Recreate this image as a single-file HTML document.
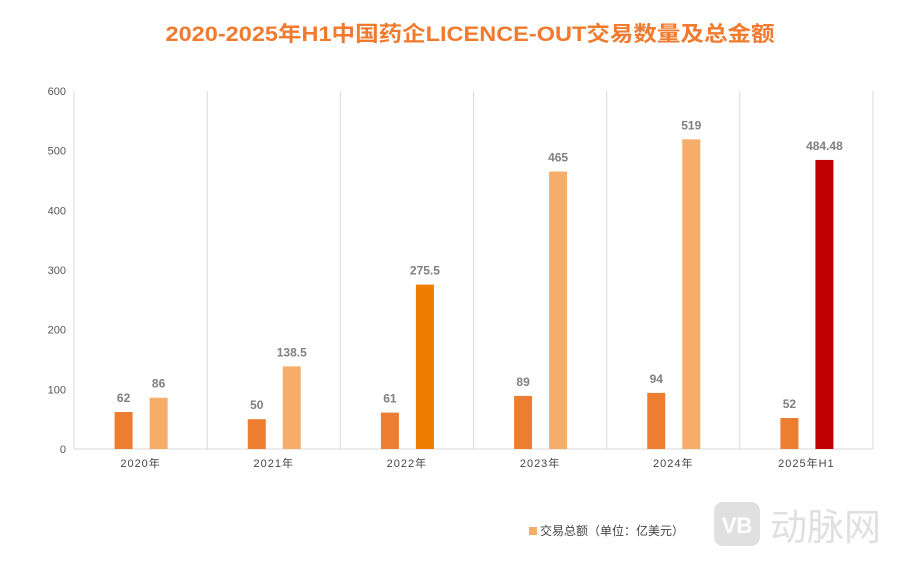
<!DOCTYPE html>
<html><head><meta charset="utf-8"><style>
body{margin:0;width:905px;height:556px;background:#fff;overflow:hidden;font-family:"Liberation Sans","Noto Sans CJK SC",sans-serif}
</style></head><body>
<svg width="905" height="556" font-family="Liberation Sans, Noto Sans CJK SC, sans-serif">
<text x="470" y="41" text-anchor="middle" font-size="21" font-weight="bold" fill="#F07A2E" textLength="609" lengthAdjust="spacingAndGlyphs">2020-2025年H1中国药企LICENCE-OUT交易数量及总金额</text>
<g id="plot"></g>
<rect x="529" y="527" width="8" height="8" fill="#F6AD6A"/>
<text x="540" y="535" font-size="12" fill="#444">交易总额（单位：亿美元）</text>
<g opacity="0.9">
<rect x="714" y="502" width="46" height="44" rx="9" fill="#ddd"/>
<text x="737" y="533" text-anchor="middle" font-size="22" font-weight="bold" fill="#fff">VB</text>
<text x="770" y="540" font-size="37" fill="#ddd">动脉网</text>
</g>
</svg>
<script>
const categories=["2020年","2021年","2022年","2023年","2024年","2025年H1"];
const dealCount=[62,50,61,89,94,52];
const dealAmount=[86,138.5,275.5,465,519,484.48];
const amountLabels=["86","138.5","275.5","465","519","484.48"];
const amountColors=["#F6AD6A","#F6AD6A","#EE7D00","#F6AD6A","#F6AD6A","#C00000"];
const yTicks=[0,100,200,300,400,500,600];
const NS="http://www.w3.org/2000/svg";
const g=document.getElementById("plot");
const X0=74,X1=873,Y0=449,Y1=91,MAX=600;
const bw=(X1-X0)/categories.length;
const y=v=>Y0-(v/MAX)*(Y0-Y1);
function mk(t,a){const e=document.createElementNS(NS,t);for(const k in a)e.setAttribute(k,a[k]);g.appendChild(e);return e;}
yTicks.forEach(t=>{const e=mk("text",{x:66,y:y(t)+4,"text-anchor":"end","font-size":11,fill:"#555"});e.textContent=t;

});
for(let i=1;i<categories.length;i++){const l=mk("line",{x1:X0+i*bw,x2:X0+i*bw,y1:Y1,y2:Y0,stroke:"#d9d9d9"});

}
const r=mk("line",{x1:X1,x2:X1,y1:Y1,y2:Y0,stroke:"#d9d9d9"});
const ax=mk("line",{x1:X0,x2:X1,y1:Y0,y2:Y0,stroke:"#d9d9d9"});


const ay=mk("line",{x1:X0,x2:X0,y1:Y1,y2:Y0,stroke:"#d9d9d9"});


categories.forEach((c,i)=>{
 const cx=X0+bw*(i+0.5);
 const t=mk("text",{x:cx,y:467,"text-anchor":"middle","font-size":11,fill:"#444","letter-spacing":"1"});t.textContent=c;
 
 
 const b1=mk("rect",{x:cx-26,y:y(dealCount[i]),width:18,height:Y0-y(dealCount[i]),fill:"#ED7D31"});
 
 
 const l1=mk("text",{x:cx-17,y:y(dealCount[i])-10,"text-anchor":"middle","font-size":12,"font-weight":"bold",fill:"#7f7f7f"});l1.textContent=dealCount[i];
 
 
 const b2=mk("rect",{x:cx+9,y:y(dealAmount[i]),width:18,height:Y0-y(dealAmount[i]),fill:amountColors[i]});
 
 
 const l2=mk("text",{x:cx+18,y:y(dealAmount[i])-10,"text-anchor":"middle","font-size":12,"font-weight":"bold",fill:"#7f7f7f"});l2.textContent=amountLabels[i];
 
 
});
</script>
</body></html>
